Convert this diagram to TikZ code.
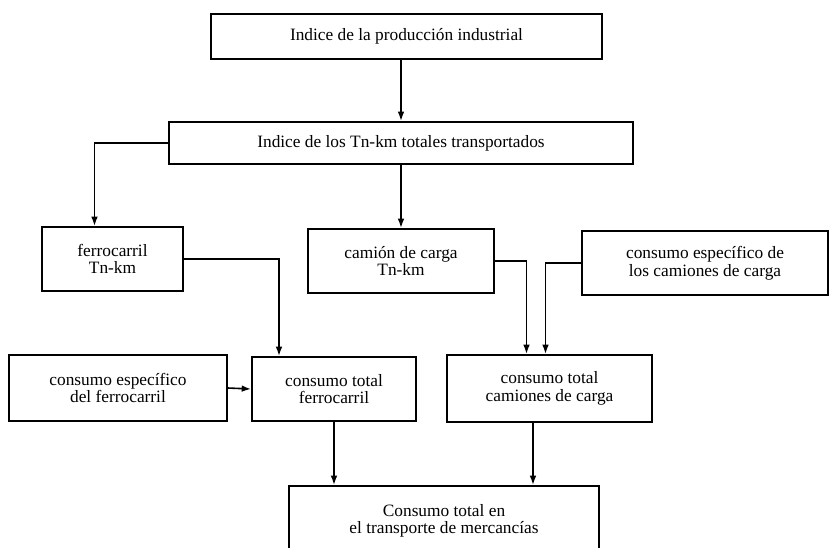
\documentclass[tikz,border=0pt]{standalone}
\usepackage{fontspec}
\setmainfont{Liberation Serif}
\usetikzlibrary{arrows.meta,calc}
\tikzset{
  box/.style={draw, line width=1.5pt, rectangle, align=center, inner sep=0pt,
    font=\fontsize{13}{13.2}\selectfont},
  conn/.style={line width=1.2pt, -{Latex[length=7pt,width=5pt]}},
}
\begin{document}
\begin{tikzpicture}[x=0.75pt,y=-0.75pt]
\useasboundingbox (0,0) rectangle (830,547);
\clip (0,0) rectangle (830,547);
\node[box, minimum width=391*0.75pt, minimum height=45*0.75pt] (b1) at (406.5,36.5) {Indice de la producción industrial};
\node[box, minimum width=464*0.75pt, minimum height=42*0.75pt] (b2) at (401,143) {Indice de los Tn-km totales transportados};
\node[box, minimum width=141*0.75pt, minimum height=64*0.75pt] (ferro) at (112.5,259) {ferrocarril\\Tn-km};
\node[box, minimum width=186*0.75pt, minimum height=64*0.75pt] (camion) at (401,261) {camión de carga\\Tn-km};
\node[box, minimum width=246*0.75pt, minimum height=64*0.75pt] (ceCam) at (705,263) {consumo específico de\\los camiones de carga};
\node[box, minimum width=218*0.75pt, minimum height=66*0.75pt] (ceFer) at (118,388) {consumo específico\\del ferrocarril};
\node[box, minimum width=164*0.75pt, minimum height=64*0.75pt] (ctFer) at (334,389) {consumo total\\ferrocarril};
\node[box, minimum width=205*0.75pt, minimum height=67*0.75pt] (ctCam) at (549.5,388.5) {consumo total\\camiones de carga};
\node[box, minimum width=310*0.75pt, minimum height=70*0.75pt] (final) at (444,521) {Consumo total en\\el transporte de mercancías};
% connector end points
\coordinate (fN) at ($(ferro.north)+(-18,0)$);
\coordinate (ctFerIn) at ($(ctFer.north)+(-55,0)$);
\coordinate (ctCamInA) at ($(ctCam.north)+(-23,0)$);
\coordinate (ctCamInB) at ($(ctCam.north)+(-4,0)$);
\coordinate (ctCamOut) at ($(ctCam.south)+(-16.5,0)$);
% connectors
\draw[conn] (b1.south -| b2.north) -- (b2.north);
\draw[conn] (b2.south) -- (camion.north);
\draw[conn] (b2.west) -| (fN);
\draw[conn] (ferro.east) -| (ctFerIn);
\draw[conn] (camion.east) -| (ctCamInA);
\draw[conn] (ceCam.west) -| (ctCamInB);
\draw[conn] (ceFer.east) -- (ctFer.west);
\draw[conn] (ctFer.south) -- (ctFer.south |- final.north);
\draw[conn] (ctCamOut) -- (ctCamOut |- final.north);
\end{tikzpicture}
\end{document}
